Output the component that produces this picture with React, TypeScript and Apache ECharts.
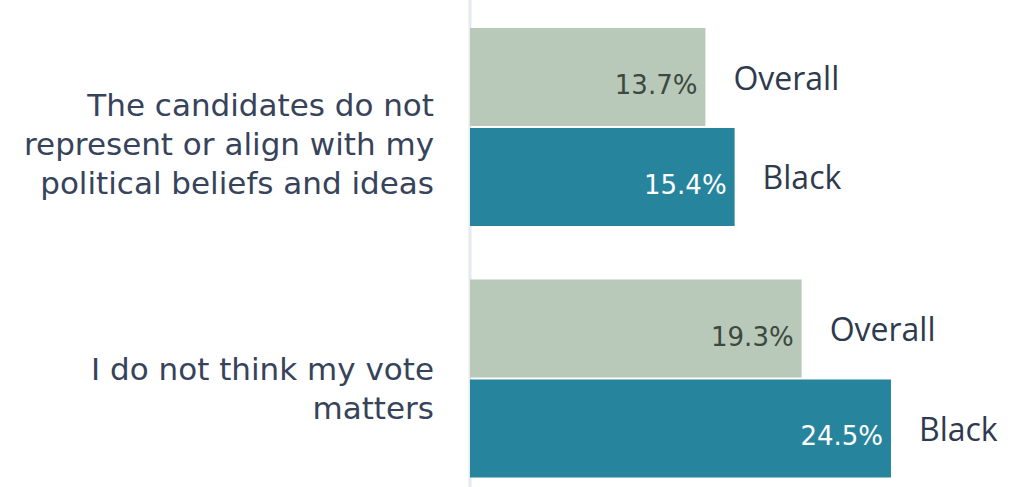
import React, { useEffect, useRef } from "react";
import * as echarts from "echarts";

const categories = [
  "The candidates do not\nrepresent or align with my\npolitical beliefs and ideas",
  "I do not think my vote\nmatters",
];
const overallValues = [13.7, 19.3];
const blackValues = [15.4, 24.5];
const seriesNames = ["Overall", "Black"];

const FONT = "'DejaVu Sans', sans-serif";
const NAME_FONT = "'Open Sans', sans-serif";

export default function App() {
  const ref = useRef<HTMLDivElement>(null);
  useEffect(() => {
    document.body.style.margin = "0";
    const chart = echarts.init(ref.current!, null, { renderer: "svg" });
    const valueLabel = (color: string) => ({
      show: true,
      position: "insideRight",
      distance: 8,
      offset: [0, 8],
      color,
      fontSize: 26,
      fontFamily: FONT,
      formatter: (p: any) => p.value.toFixed(1) + "%",
    });
    const nameLabel = {
      show: true,
      position: "right",
      distance: 28,
      color: "#2e3a4e",
      fontSize: 32,
      fontFamily: NAME_FONT,
      formatter: (p: any) => p.seriesName,
    };
    const richBase = { fontSize: 31, fontFamily: FONT, color: "#36435b", lineHeight: 39 };
    chart.setOption({
      animation: false,
      grid: { left: 470, right: 47.5, top: 127, height: 251.5, containLabel: false },
      graphic: [
        {
          type: "line",
          shape: { x1: 470, y1: 0, x2: 470, y2: 487 },
          style: { stroke: "#e6e9ef", lineWidth: 3 },
          z: 0,
        },
      ],
      xAxis: [
        { type: "value", min: 0, max: 30, show: false },
        { type: "value", min: 0, max: 30, show: false },
      ],
      yAxis: [
        {
          type: "category",
          data: categories,
          inverse: true,
          boundaryGap: false,
          axisTick: { show: false },
          axisLine: { show: false },
          axisLabel: {
            margin: 36,
            fontSize: 31,
            fontFamily: FONT,
            color: "#36435b",
            lineHeight: 39,
            align: "right",
            formatter: (v: string, i: number) =>
              v
                .split("\n")
                .map((l) => `{${i === 0 ? "a" : "b"}|${l}}`)
                .join("\n"),
            rich: {
              a: { ...richBase, padding: [34, 0, 0, 0] },
              b: { ...richBase, padding: [20, 0, 0, 0] },
            },
          },
        },
        { type: "category", data: categories, inverse: true, boundaryGap: false, show: false, gridIndex: 0 },
      ],
      series: [
        {
          name: seriesNames[0],
          type: "bar",
          data: overallValues,
          barWidth: 98,
          barGap: "2%",
          itemStyle: { color: "#b8c9b9" },
          label: valueLabel("#3c4840"),
        },
        {
          name: seriesNames[1],
          type: "bar",
          data: blackValues,
          barWidth: 98,
          barGap: "2%",
          itemStyle: { color: "#27849d" },
          label: valueLabel("#ffffff"),
        },
        {
          name: seriesNames[0],
          type: "bar",
          xAxisIndex: 1,
          yAxisIndex: 1,
          data: overallValues,
          barWidth: 98,
          barGap: "2%",
          silent: true,
          itemStyle: { color: "rgba(0,0,0,0)" },
          label: nameLabel,
        },
        {
          name: seriesNames[1],
          type: "bar",
          xAxisIndex: 1,
          yAxisIndex: 1,
          data: blackValues,
          barWidth: 98,
          barGap: "2%",
          silent: true,
          itemStyle: { color: "rgba(0,0,0,0)" },
          label: nameLabel,
        },
      ],
    });
    return () => chart.dispose();
  }, []);
  return <div ref={ref} style={{ width: 1033, height: 487 }} />;
}
